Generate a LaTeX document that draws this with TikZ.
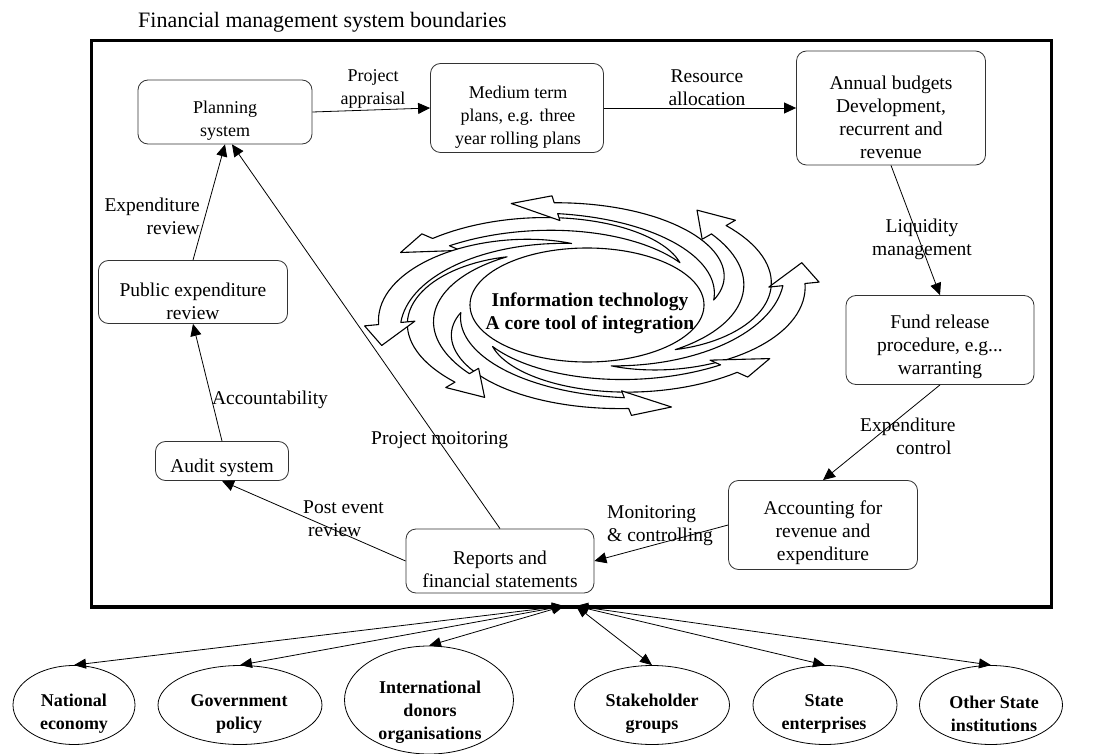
\documentclass[tikz,border=0pt]{standalone}
\usepackage{fontspec}
\setmainfont{Liberation Serif}
\usetikzlibrary{arrows.meta,shapes.geometric}

% swirl geometry (circular units, stretched horizontally by \kx)
\def\cx{587}\def\cy{305}\def\kx{2.05}
\def\swr{62}    % radius where every swirl arrow starts
\def\swbw{5.5}  % half width of the band at the head
\def\swhw{12.5} % half width of the head
\def\swhl{19}   % head length
\def\swto{10}   % outward offset of the tip from the band centre
\def\swf{((\t-(\sa))/\sspan)}

% one curved block arrow of the swirl: #1 tail angle, #2 tip angle, #3 tip radius
\newcommand\swirlarrow[3]{%
  \pgfmathsetmacro\sa{#1}%
  \pgfmathsetmacro\sc{#2}%
  \pgfmathsetmacro\st{#3}%
  \pgfmathsetmacro\sr{\st-\swto}%
  \pgfmathsetmacro\sb{\sc-deg(\swhl/\sr)}%
  \pgfmathsetmacro\sspan{\sb-(\sa)}%
  \pgfmathsetmacro\so{\sr+\swbw-\swr}%
  \pgfmathsetmacro\si{\sr-\swbw-\swr}%
  \draw[swirl] plot[domain=\sa:\sb, samples=40, variable=\t]
      ({\cx+\kx*(\swr+\so*\swf*(1.4-0.4*\swf))*cos(\t)},
       {\cy-(\swr+\so*\swf*(1.4-0.4*\swf))*sin(\t)})
    -- ({\cx+\kx*(\sr+\swhw)*cos(\sb)},{\cy-(\sr+\swhw)*sin(\sb)})
    -- ({\cx+\kx*\st*cos(\sc)},{\cy-\st*sin(\sc)})
    -- ({\cx+\kx*(\sr-\swhw)*cos(\sb)},{\cy-(\sr-\swhw)*sin(\sb)})
    -- plot[domain=\sb:\sa, samples=40, variable=\t]
      ({\cx+\kx*(\swr+\si*\swf*(0.6+0.4*\swf))*cos(\t)},
       {\cy-(\swr+\si*\swf*(0.6+0.4*\swf))*sin(\t)})
    -- cycle;
}

\begin{document}
\begin{tikzpicture}[x=1pt,y=-1pt,
  box/.style={draw=black!80, line width=0.8pt, rounded corners=10pt, inner sep=0pt},
  txt/.style={font=\fontsize{19.5}{23}\selectfont, align=center, inner sep=0pt},
  txs/.style={font=\fontsize{18}{23}\selectfont, align=center, inner sep=0pt},
  oval/.style={draw, ellipse, line width=0.8pt, inner sep=0pt},
  otxt/.style={font=\bfseries\fontsize{18}{23}\selectfont, align=center, inner sep=0pt},
  flow/.style={-{Triangle[length=12pt,width=11pt]}, line width=0.8pt},
  link/.style={{Triangle[length=12pt,width=10pt]}-{Triangle[length=12pt,width=10pt]}, line width=0.8pt},
  swirl/.style={draw, fill=white, line width=1.1pt, line join=round}]
\useasboundingbox (0,0) rectangle (1109,754);

% title and system boundary
\node[font=\fontsize{22}{26}\selectfont, anchor=base west, inner sep=0pt] (title) at (138,28)
  {Financial management system boundaries};
\node[draw, line width=3.6pt, minimum width=960pt, minimum height=566.5pt, inner sep=0pt]
  (bound) at (571.5,323.75) {};

% process boxes
\node[box, minimum width=174pt, minimum height=64pt]  (plan)  at (225,112) {};
\node[box, minimum width=173pt, minimum height=89pt]  (med)   at (517,108) {};
\node[box, minimum width=189pt, minimum height=114pt] (ann)   at (891,108) {};
\node[box, minimum width=188pt, minimum height=89pt]  (fund)  at (940,340) {};
\node[box, minimum width=189pt, minimum height=89pt]  (acc)   at (823,525) {};
\node[box, minimum width=188pt, minimum height=64pt]  (rep)   at (500,561) {};
\node[box, minimum width=133pt, minimum height=39pt]  (audit) at (222,461) {};
\node[box, minimum width=189pt, minimum height=63pt]  (pub)   at (193,292) {};

\node[txs] (plan-t)  at (225,121) {Planning\\system};
\node[txs] (med-t)   at (518,117) {Medium term\\plans, e.g. three\\year rolling plans};
\node[txt] (ann-t)   at (891,117) {Annual budgets\\Development,\\recurrent and\\revenue};
\node[txt] (fund-t)  at (940,347) {Fund release\\procedure, e.g...\\warranting};
\node[txt] (acc-t)   at (823,533) {Accounting for\\revenue and\\expenditure};
\node[txt] (rep-t)   at (500,569) {Reports and\\financial statements};
\node[txt] (audit-t) at (222,468) {Audit system};
\node[txt] (pub-t)   at (193,301) {Public expenditure\\review};

% flows between the boxes
\draw[flow] (plan.east) -- (med.west);
\draw[flow] (med.east) -- (ann.west);
\draw[flow] (ann.south) -- (fund.north);
\draw[flow] (fund.south) -- (acc.north);
\draw[flow] (acc.west) -- (rep.east);
\draw[flow] (rep.west) -- (audit.south);
\draw[flow] (audit.north) -- (pub.south);
\draw[flow] (pub.north) -- (plan.south);
\draw[flow] (rep.north) -- ([xshift=7pt]plan.south);

% flow labels
\node[txs] (l-appr) at (373,89) {Project\\appraisal};
\node[txt] (l-res)  at (707,88) {Resource\\allocation};
\node[txt] (l-liq)  at (922,239) {Liquidity\\management};
\node[txt, align=left, anchor=west] (l-ctrl) at (860,436) {Expenditure\\\hspace*{36pt}control};
\node[txt, align=left, anchor=west] (l-mon)  at (607,526) {Monitoring\\\& controlling};
\node[txt, align=left, anchor=west] (l-post) at (303,519) {Post event\\\hspace*{5pt}review};
\node[txt] (l-acct) at (270,400) {Accountability};
\node[txt, align=right, anchor=east] (l-rev) at (200,216) {Expenditure\\review};
\node[txt, anchor=west] (l-mon2) at (371,440) {Project moitoring};

% information technology swirl
\node[draw, ellipse, line width=1.1pt, minimum width=234pt, minimum height=114pt, inner sep=0pt]
  (core) at (587,305) {};
\swirlarrow{43}{150}{105}
\swirlarrow{4.6}{110}{108}
\swirlarrow{-46}{60.5}{109}
\swirlarrow{-79}{22}{113}
\swirlarrow{222}{329}{104}
\swirlarrow{187}{292}{110}
\swirlarrow{129}{241.6}{105}
\swirlarrow{97}{202}{108}
\node[font=\bfseries\fontsize{19.5}{23}\selectfont, align=center, inner sep=0pt] (core-t)
  at (590,313) {Information technology\\A core tool of integration};

% external parties
\node[oval, minimum width=122pt, minimum height=79pt]  (nat)   at (74,705) {};
\node[oval, minimum width=164pt, minimum height=79pt]  (gov)   at (240,705) {};
\node[oval, minimum width=169pt, minimum height=108pt] (intl)  at (429,700) {};
\node[oval, minimum width=155pt, minimum height=79pt]  (stake) at (652,705) {};
\node[oval, minimum width=144pt, minimum height=79pt]  (ent)   at (825,705) {};
\node[oval, minimum width=143pt, minimum height=79pt]  (oth)   at (991,705) {};

\node[otxt] (nat-t)   at (74,714)  {National\\economy};
\node[otxt] (gov-t)   at (239,714) {Government\\policy};
\node[otxt] (intl-t)  at (430,712) {International\\donors\\organisations};
\node[otxt] (stake-t) at (652,714) {Stakeholder\\groups};
\node[otxt] (ent-t)   at (824,714) {State\\enterprises};
\node[otxt] (oth-t)   at (994,714) {Other State\\institutions};

\coordinate (hubL) at (564,606);
\coordinate (hubR) at (576,606);
\draw[link] (hubL) -- (nat.north);
\draw[link] (hubL) -- (gov.north);
\draw[link] (hubL) -- (intl.north);
\draw[link] (hubR) -- (stake.north);
\draw[link] (hubR) -- (ent.north);
\draw[link] (hubR) -- (oth.north);
\end{tikzpicture}
\end{document}
